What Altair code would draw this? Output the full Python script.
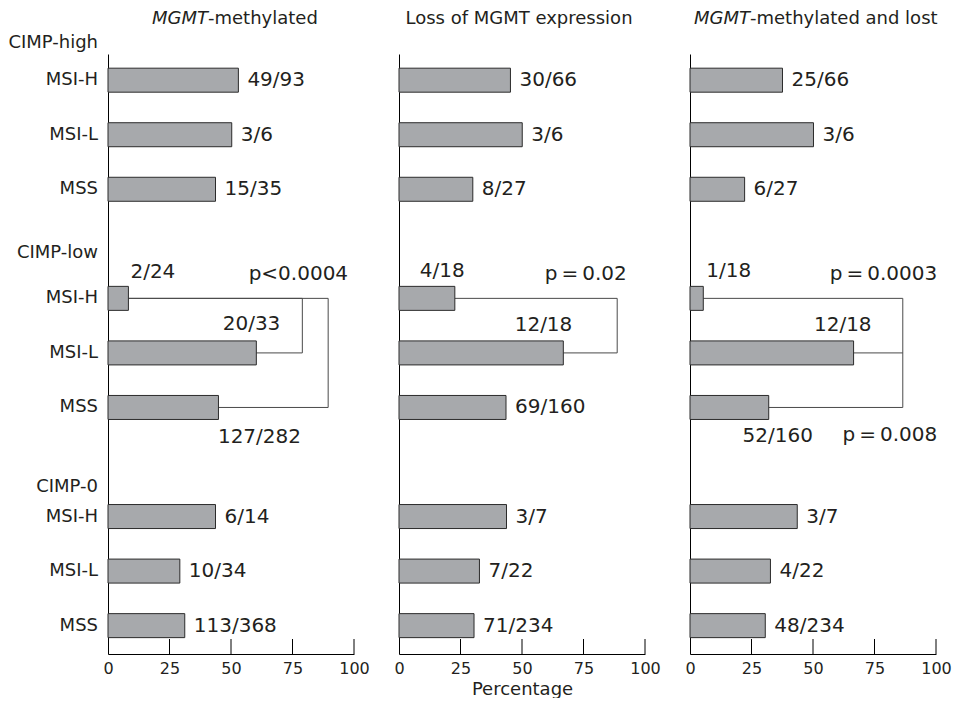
import altair as alt
import pandas as pd

# ---------------- data ----------------
panel_titles = ["MGMT-methylated", "Loss of MGMT expression", "MGMT-methylated and lost"]
groups = ["CIMP-high", "CIMP-low", "CIMP-0"]
subtypes = ["MSI-H", "MSI-L", "MSS"]

# percentages (order: CIMP-high MSI-H, MSI-L, MSS, CIMP-low ..., CIMP-0 ...)
pct_methylated = [53.0, 50.3, 43.7, 8.3, 60.3, 44.9, 43.7, 29.2, 31.2]
pct_loss = [45.3, 50.1, 30.0, 22.7, 66.8, 43.5, 43.7, 32.7, 30.5]
pct_both = [37.6, 50.2, 22.2, 5.4, 66.5, 32.0, 43.6, 32.7, 30.6]

frac_methylated = ["49/93", "3/6", "15/35", "2/24", "20/33", "127/282", "6/14", "10/34", "113/368"]
frac_loss = ["30/66", "3/6", "8/27", "4/18", "12/18", "69/160", "3/7", "7/22", "71/234"]
frac_both = ["25/66", "3/6", "6/27", "1/18", "12/18", "52/160", "3/7", "4/22", "48/234"]

p_values = [["p<0.0004"], ["p\u2009=\u20090.02"], ["p\u2009=\u20090.0003", "p\u2009=\u20090.008"]]
tick_values = [0, 25, 50, 75, 100]

# ---------------- layout ----------------
FONT = "DejaVu Sans"
TXT = "#231f20"
W, H = 246, 600
ROW_DOMAIN = [0.52, 11.52]
PX_X = W / 100.0
PX_ROW = H / (ROW_DOMAIN[1] - ROW_DOMAIN[0])

pcts = [pct_methylated, pct_loss, pct_both]
fracs = [frac_methylated, frac_loss, frac_both]

# label placement relative to bar end: (align, dx px, dy px)
label_layout = {
    (0, 3): ("left", 2, -26), (0, 4): ("right", 24, -29), (0, 5): ("center", 41, 30),
    (1, 3): ("left", -35, -27), (1, 4): ("right", 9, -28),
    (2, 3): ("left", 3, -27), (2, 4): ("right", 18, -28), (2, 5): ("center", 9, 29),
}
default_place = ("left", 9, 0)

# brackets: (bar indices, bracket x in %)
bracket_layout = {
    0: [((3, 4), 79.0), ((3, 5), 89.5)],
    1: [((3, 4), 88.7)],
    2: [((3, 4, 5), 86.5)],
}
# p-value label anchors (x in %, row units), right aligned
p_layout = {0: [(97.6, 4.55)], 1: [(92.6, 4.55)], 2: [(100.5, 4.55), (100.5, 7.50)]}
header_offset = [-0.68, -0.83, -0.54]


def row_of(i):
    g, s = divmod(i, 3)
    return g * 4 + s + 1


recs = []
for p in range(3):
    for i in range(9):
        anc, dx, dy = label_layout.get((p, i), default_place)
        v = pcts[p][i]
        r = row_of(i)
        recs.append(dict(panel=p, group=groups[i // 3], sub=subtypes[i % 3], value=v,
                         frac=fracs[p][i], row=r, anchor=anc,
                         lx=v + dx / PX_X, ly=r + dy / PX_ROW))
df = pd.DataFrame(recs)

xs = alt.Scale(domain=[0, 100], nice=False, zero=False, padding=0)
ys = alt.Scale(domain=ROW_DOMAIN, reverse=True, nice=False, zero=False, padding=0)


def make_panel(p):
    d = df[df["panel"] == p]
    ax_kwargs = dict(values=tick_values, ticks=False, domain=True, domainColor="#000",
                     domainWidth=1, grid=False, labelFont=FONT, labelFontSize=16,
                     labelColor=TXT, labelPadding=6, labelFlush=False)
    if p == 1:
        ax_kwargs.update(title="Percentage", titleFont=FONT, titleFontSize=18,
                         titleFontWeight="normal", titleColor=TXT, titlePadding=4)
    else:
        ax_kwargs.update(title=None)
    xaxis = alt.Axis(**ax_kwargs)
    yaxis = alt.Axis(labels=False, ticks=False, domain=True, domainColor="#000",
                     domainWidth=1, grid=False, title=None)

    def X(f):
        return alt.X(f, scale=xs, axis=xaxis)

    def Y(f):
        return alt.Y(f, scale=ys, axis=yaxis)

    bars = alt.Chart(d).mark_bar(size=24, fill="#a7a9ac", stroke="#2b2b2b",
                                 strokeWidth=1).encode(
        x=X("value:Q"), x2=alt.datum(0), y=Y("row:Q"),
    )

    # inward ticks
    tk = pd.DataFrame({"t": [t for t in tick_values if t > 0]})
    ticks = alt.Chart(tk).mark_rule(color="#000", strokeWidth=1).encode(
        x=X("t:Q"), y=alt.value(H), y2=alt.value(H - 15))

    # brackets
    segs = []
    for idxs, bx in bracket_layout[p]:
        rws = []
        for i in idxs:
            r = row_of(i)
            rws.append(r)
            segs.append(dict(x=pcts[p][i], x2=bx, y=r, y2=r))
        segs.append(dict(x=bx, x2=bx, y=min(rws), y2=max(rws)))
    sd = pd.DataFrame(segs)
    br = alt.Chart(sd).mark_rule(color="#4a4a4a", strokeWidth=1).encode(
        x=X("x:Q"), x2="x2:Q", y=Y("y:Q"), y2="y2:Q")

    layers = [br, bars, ticks]

    # fraction labels
    for al in ["left", "right", "center"]:
        dd = d[d["anchor"] == al]
        if len(dd) == 0:
            continue
        layers.append(alt.Chart(dd).mark_text(align=al, baseline="middle", font=FONT,
                                              fontSize=20, color=TXT).encode(
            x=X("lx:Q"), y=Y("ly:Q"), text="frac:N"))

    # p-values
    pdf = pd.DataFrame([dict(t=t, x=xy[0], y=xy[1]) for t, xy in zip(p_values[p], p_layout[p])])
    layers.append(alt.Chart(pdf).mark_text(align="right", baseline="middle", font=FONT,
                                           fontSize=20, color=TXT).encode(
        x=X("x:Q"), y=Y("y:Q"), text="t:N"))

    # panel titles
    TY = -35
    if p == 1:
        tdf = pd.DataFrame({"t": [panel_titles[1]]})
        layers.append(alt.Chart(tdf).mark_text(align="center", baseline="middle", font=FONT,
                                               fontSize=18, color=TXT).encode(
            x=alt.value(W / 2 - 3), y=alt.value(TY), text="t:N"))
    else:
        split = 100 if p == 0 else 60
        rest = panel_titles[p][len("MGMT"):]
        t1 = pd.DataFrame({"t": ["MGMT"]})
        t2 = pd.DataFrame({"t": [rest]})
        layers.append(alt.Chart(t1).mark_text(align="right", baseline="middle", font=FONT,
                                              fontSize=18, fontStyle="italic", color=TXT).encode(
            x=alt.value(split), y=alt.value(TY), text="t:N"))
        layers.append(alt.Chart(t2).mark_text(align="left", baseline="middle", font=FONT,
                                              fontSize=18, color=TXT).encode(
            x=alt.value(split), y=alt.value(TY), text="t:N"))

    if p == 0:
        rl = pd.DataFrame({"t": [subtypes[i % 3] for i in range(9)],
                           "row": [row_of(i) for i in range(9)]})
        layers.append(alt.Chart(rl).mark_text(align="right", baseline="middle", font=FONT,
                                              fontSize=18, color=TXT).encode(
            x=alt.value(-10), y=Y("row:Q"), text="t:N"))
        hl = pd.DataFrame({"t": groups,
                           "row": [row_of(g * 3) + header_offset[g] for g in range(3)]})
        layers.append(alt.Chart(hl).mark_text(align="right", baseline="middle", font=FONT,
                                              fontSize=18, color=TXT).encode(
            x=alt.value(-10), y=Y("row:Q"), text="t:N"))

    return alt.layer(*layers).properties(width=W, height=H)


chart = alt.hconcat(*[make_panel(p) for p in range(3)], spacing=45, bounds="flush").properties(
    padding={"left": 0, "top": 2, "right": 0, "bottom": 0}
).configure(font=FONT).configure_view(strokeWidth=0, stroke="transparent")

chart.save("out.html", embed_options={"renderer": "svg", "actions": False})
